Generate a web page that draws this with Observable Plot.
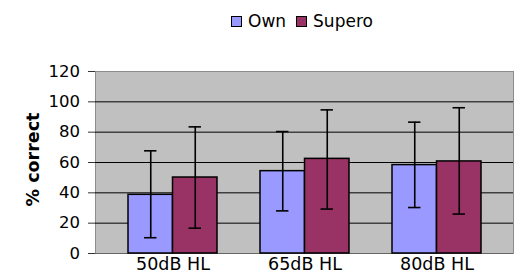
<!DOCTYPE html>
<html>
<head>
<meta charset="utf-8">
<script src="https://cdn.jsdelivr.net/npm/d3@7"></script>
<script src="https://cdn.jsdelivr.net/npm/@observablehq/plot@0.6"></script>
<style>
  html, body { margin: 0; padding: 0; background: #fff; }
  #legend { position: relative; height: 40px; width: 515px; font-family: "DejaVu Sans", sans-serif; font-size: 17px; color: #000; }
  #legend .items { position: absolute; left: 231px; top: 15px; display: flex; align-items: center; line-height: 13px; }
  #legend .sw { width: 9px; height: 9px; border: 1.5px solid #000; margin-right: 6px; }
  #legend .lab { margin-right: 10px; }
  svg { display: block; }
</style>
</head>
<body>
<div id="legend"><div class="items"></div></div>
<div id="chart"></div>
<script>
const categories = ["50dB HL", "65dB HL", "80dB HL"];
const seriesNames = ["Own", "Supero"];
const seriesColors = ["#9999FF", "#993366"];
const ownValues = [38.7, 54.3, 58.3];
const ownLow = [10.4, 28.1, 30.3];
const ownHigh = [67.7, 80.4, 86.6];
const superoValues = [50.1, 62.4, 60.7];
const superoLow = [16.7, 29.3, 26.0];
const superoHigh = [83.5, 94.7, 96.1];
const yTicks = [0, 20, 40, 60, 80, 100, 120];

const own = categories.map((c, i) => ({cat: c, v: ownValues[i], lo: ownLow[i], hi: ownHigh[i]}));
const sup = categories.map((c, i) => ({cat: c, v: superoValues[i], lo: superoLow[i], hi: superoHigh[i]}));

// legend
const items = document.querySelector("#legend .items");
seriesNames.forEach((n, i) => {
  const sw = document.createElement("div");
  sw.className = "sw"; sw.style.background = seriesColors[i];
  const lab = document.createElement("div");
  lab.className = "lab"; lab.textContent = n;
  items.appendChild(sw); items.appendChild(lab);
});

const bw = 89;          // band width (px) of a category group
const half = bw / 2;
const cap = 6.2;        // half width of error bar cap
const font = "DejaVu Sans, sans-serif";

const chart = Plot.plot({
  width: 515,
  height: 234,
  marginLeft: 95,
  marginRight: 2,
  marginTop: 31,
  marginBottom: 21,
  style: {fontFamily: font, background: "#fff", overflow: "visible"},
  x: {type: "band", domain: categories, range: [106.8, 502.8], paddingInner: 0.326, paddingOuter: 0.163, align: 0.5, axis: null},
  y: {domain: [0, 120], axis: null},
  marks: [
    Plot.frame({fill: "#C0C0C0", stroke: "#8c8c8c", strokeWidth: 1}),
    Plot.ruleY(yTicks.filter(d => d > 0 && d < 120), {stroke: "#000", strokeWidth: 1}),
    Plot.ruleY([0], {stroke: "#666", strokeWidth: 1.2}),
    Plot.barY(own, {x: "cat", y: "v", fill: seriesColors[0], stroke: "#000", strokeWidth: 1.5, insetRight: half}),
    Plot.barY(sup, {x: "cat", y: "v", fill: seriesColors[1], stroke: "#000", strokeWidth: 1.5, insetLeft: half}),
    Plot.ruleX(own, {x: "cat", y1: "lo", y2: "hi", dx: -bw / 4, stroke: "#000", strokeWidth: 1.6}),
    Plot.ruleX(sup, {x: "cat", y1: "lo", y2: "hi", dx: bw / 4, stroke: "#000", strokeWidth: 1.6}),
    Plot.tickY(own, {x: "cat", y: "lo", insetLeft: bw / 4 - cap, insetRight: bw * 3 / 4 - cap, stroke: "#000", strokeWidth: 1.6}),
    Plot.tickY(own, {x: "cat", y: "hi", insetLeft: bw / 4 - cap, insetRight: bw * 3 / 4 - cap, stroke: "#000", strokeWidth: 1.6}),
    Plot.tickY(sup, {x: "cat", y: "lo", insetLeft: bw * 3 / 4 - cap, insetRight: bw / 4 - cap, stroke: "#000", strokeWidth: 1.6}),
    Plot.tickY(sup, {x: "cat", y: "hi", insetLeft: bw * 3 / 4 - cap, insetRight: bw / 4 - cap, stroke: "#000", strokeWidth: 1.6}),
    Plot.axisY({ticks: yTicks, tickSize: 7, tickPadding: 8.5, fontSize: 16.5, stroke: "#333", label: null, color: "#000"}),
    Plot.axisX({tickSize: 0, tickPadding: 4.5, fontSize: 17.5, label: null, color: "#000"}),
    Plot.text(["% correct"], {frameAnchor: "left", textAnchor: "middle", rotate: -90, dx: -62.5, dy: -3, fontSize: 17.5, fontWeight: "bold", fill: "#000"})
  ]
});
document.getElementById("chart").appendChild(chart);
</script>
</body>
</html>
